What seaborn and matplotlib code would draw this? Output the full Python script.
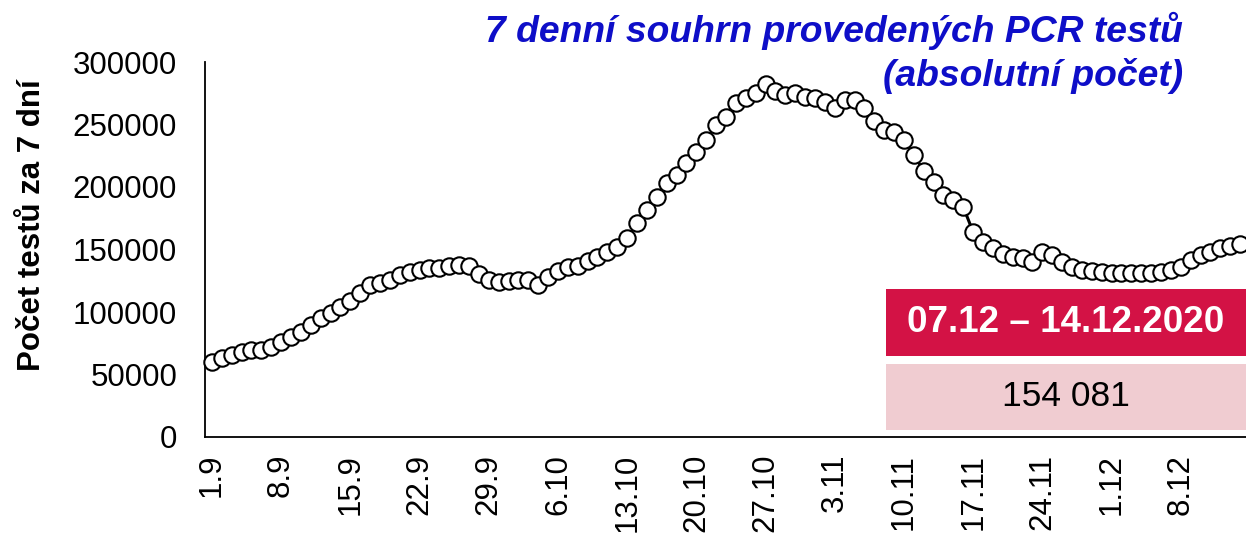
import matplotlib
matplotlib.use("Agg")
import matplotlib.pyplot as plt
import seaborn as sns
import pandas as pd
from matplotlib.patches import Rectangle

# ---- data ----
tick_labels = ["1.9", "8.9", "15.9", "22.9", "29.9", "6.10", "13.10", "20.10",
               "27.10", "3.11", "10.11", "17.11", "24.11", "1.12", "8.12"]
values = [60300, 63000, 65600, 68300, 69600, 69600, 72300, 76300, 79700, 84300,
          89600, 95000, 99000, 104000, 109000, 115000, 121600, 123500, 126000, 129600,
          132000, 133600, 135500, 135500, 136800, 137600, 137000, 130400, 125600, 124300,
          124800, 125600, 125600, 121600, 128300, 133000, 135700, 137000, 141000, 144000,
          148200, 152000, 159000, 171000, 181600, 192000, 203400, 209600, 219000, 228000,
          237600, 249600, 256000, 267000, 271000, 275400, 282400, 277000, 273600, 275000,
          272000, 271000, 268000, 263000, 269600, 270000, 263000, 253000, 245600, 244000,
          237600, 225600, 213000, 204000, 193600, 189600, 184000, 164000, 156000, 151000,
          146400, 144000, 143000, 140000, 148000, 145600, 140000, 136000, 134000, 133000,
          132000, 131400, 131000, 131000, 131000, 131400, 132000, 133600, 136000, 141600,
          145600, 148000, 151000, 152800, 154081]
days = list(range(len(values)))
y_ticks = [0, 50000, 100000, 150000, 200000, 250000, 300000]
title_lines = ["7 denní souhrn provedených PCR testů", "(absolutní počet)"]
y_label = "Počet testů za 7 dní"
box_period = "07.12 – 14.12.2020"
box_value = "154 081"

df = pd.DataFrame({"day": days, "tests": values})

sns.set_theme(style="white")
plt.rcParams["font.family"] = ["Liberation Sans", "DejaVu Sans"]
plt.rcParams["text.color"] = "black"
plt.rcParams["axes.labelcolor"] = "black"
plt.rcParams["xtick.color"] = "black"
plt.rcParams["ytick.color"] = "black"

W, H = 1246, 533
fig = plt.figure(figsize=(W / 100, H / 100), dpi=100)
ax = fig.add_axes([205 / W, (H - 437) / H, (W - 205) / W, (437 - 62) / H])

sns.lineplot(data=df, x="day", y="tests", ax=ax, color="black", linewidth=2.2,
             marker="o", markersize=11.8, markerfacecolor="white",
             markeredgecolor="black", markeredgewidth=1.5, clip_on=False, zorder=3)

ax.set_xlim(-0.7, 104.6)
ax.set_ylim(0, 300000)
ax.set_yticks(y_ticks)
ax.set_yticklabels([str(v) for v in y_ticks], fontsize=22.5, color="black")
ax.set_xticks(list(range(0, 7 * len(tick_labels), 7)))
ax.set_xticklabels(tick_labels, rotation=90, fontsize=22.5, va="top", ha="center",
                   color="black")
ax.tick_params(axis="y", length=0, pad=20)
ax.tick_params(axis="x", length=0, pad=12)
ax.set_xlabel("")
ax.set_ylabel(y_label, fontsize=22.5, fontweight="bold", color="black")
ax.yaxis.set_label_coords(-0.152, 0.565)

for s in ["top", "right"]:
    ax.spines[s].set_visible(False)
for s in ["left", "bottom"]:
    ax.spines[s].set_color("black")
    ax.spines[s].set_linewidth(1.3)

# title
fig.text(1183 / W, 1 - 31 / H, title_lines[0], ha="right", va="center",
         fontsize=26.8, fontweight="bold", fontstyle="italic", color="#0E0EC8")
fig.text(1183 / W, 1 - 76 / H, title_lines[1], ha="right", va="center",
         fontsize=26.8, fontweight="bold", fontstyle="italic", color="#0E0EC8")

# info boxes
fig.patches.append(Rectangle((886 / W, 1 - 356 / H), (W - 886) / W, 67 / H,
                             transform=fig.transFigure, facecolor="#D31245",
                             edgecolor="none", zorder=5))
fig.patches.append(Rectangle((886 / W, 1 - 430 / H), (W - 886) / W, 66 / H,
                             transform=fig.transFigure, facecolor="#F0CCD1",
                             edgecolor="none", zorder=5))
fig.text(1066 / W, 1 - 322 / H, box_period, ha="center", va="center",
         fontsize=26.5, fontweight="bold", color="white", zorder=6)
fig.text(1066 / W, 1 - 397 / H, box_value, ha="center", va="center",
         fontsize=25.5, color="black", zorder=6)

fig.savefig("out.png", dpi=100)
